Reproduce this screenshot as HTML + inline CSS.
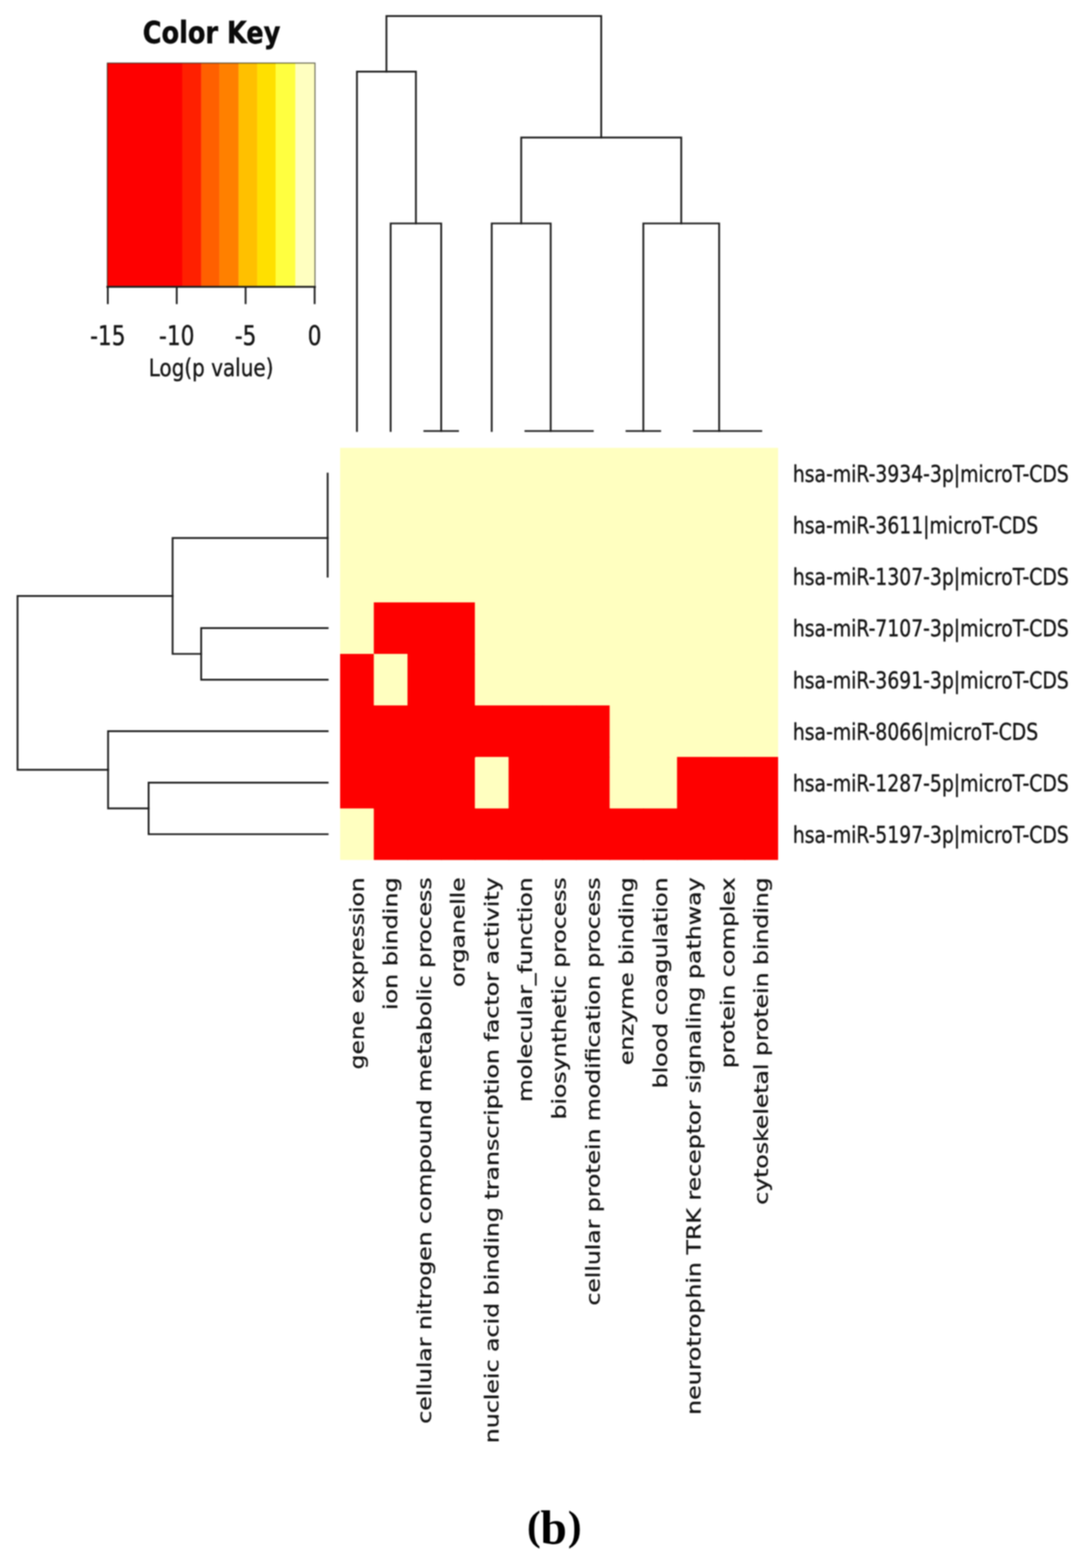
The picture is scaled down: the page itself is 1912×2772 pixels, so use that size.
<!DOCTYPE html>
<html lang="en">
<head>
<meta charset="utf-8">
<title>Heatmap (b)</title>
<style>
html,body{margin:0;padding:0;background:#fff;}
body{width:1912px;height:2772px;overflow:hidden;}
svg{display:block;font-family:"DejaVu Sans","Liberation Sans",sans-serif;filter:blur(0.8px);}
svg text{white-space:pre;}
</style>
</head>
<body>
<svg width="1912" height="2772" viewBox="0 0 1912 2772">
<rect x="0" y="0" width="1912" height="2772" fill="#ffffff"/>
<rect x="601.0" y="791.7" width="774.0" height="728.5999999999999" fill="#ffffc0"/>
<rect x="660.54" y="1064.92" width="60.54" height="91.07" fill="#fe0000"/>
<rect x="720.08" y="1064.92" width="60.54" height="92.07" fill="#fe0000"/>
<rect x="779.62" y="1064.92" width="59.54" height="92.07" fill="#fe0000"/>
<rect x="601.00" y="1156.00" width="59.54" height="92.07" fill="#fe0000"/>
<rect x="720.08" y="1156.00" width="60.54" height="92.07" fill="#fe0000"/>
<rect x="779.62" y="1156.00" width="59.54" height="92.07" fill="#fe0000"/>
<rect x="601.00" y="1247.08" width="60.54" height="92.07" fill="#fe0000"/>
<rect x="660.54" y="1247.08" width="60.54" height="92.07" fill="#fe0000"/>
<rect x="720.08" y="1247.08" width="60.54" height="92.07" fill="#fe0000"/>
<rect x="779.62" y="1247.08" width="60.54" height="92.07" fill="#fe0000"/>
<rect x="839.15" y="1247.08" width="60.54" height="91.07" fill="#fe0000"/>
<rect x="898.69" y="1247.08" width="60.54" height="92.07" fill="#fe0000"/>
<rect x="958.23" y="1247.08" width="60.54" height="92.07" fill="#fe0000"/>
<rect x="1017.77" y="1247.08" width="59.54" height="92.07" fill="#fe0000"/>
<rect x="601.00" y="1338.15" width="60.54" height="91.07" fill="#fe0000"/>
<rect x="660.54" y="1338.15" width="60.54" height="92.07" fill="#fe0000"/>
<rect x="720.08" y="1338.15" width="60.54" height="92.07" fill="#fe0000"/>
<rect x="779.62" y="1338.15" width="59.54" height="92.07" fill="#fe0000"/>
<rect x="898.69" y="1338.15" width="60.54" height="92.07" fill="#fe0000"/>
<rect x="958.23" y="1338.15" width="60.54" height="92.07" fill="#fe0000"/>
<rect x="1017.77" y="1338.15" width="59.54" height="92.07" fill="#fe0000"/>
<rect x="1196.38" y="1338.15" width="60.54" height="92.07" fill="#fe0000"/>
<rect x="1255.92" y="1338.15" width="60.54" height="92.07" fill="#fe0000"/>
<rect x="1315.46" y="1338.15" width="59.54" height="92.07" fill="#fe0000"/>
<rect x="660.54" y="1429.22" width="60.54" height="91.07" fill="#fe0000"/>
<rect x="720.08" y="1429.22" width="60.54" height="91.07" fill="#fe0000"/>
<rect x="779.62" y="1429.22" width="60.54" height="91.07" fill="#fe0000"/>
<rect x="839.15" y="1429.22" width="60.54" height="91.07" fill="#fe0000"/>
<rect x="898.69" y="1429.22" width="60.54" height="91.07" fill="#fe0000"/>
<rect x="958.23" y="1429.22" width="60.54" height="91.07" fill="#fe0000"/>
<rect x="1017.77" y="1429.22" width="60.54" height="91.07" fill="#fe0000"/>
<rect x="1077.31" y="1429.22" width="60.54" height="91.07" fill="#fe0000"/>
<rect x="1136.85" y="1429.22" width="60.54" height="91.07" fill="#fe0000"/>
<rect x="1196.38" y="1429.22" width="60.54" height="91.07" fill="#fe0000"/>
<rect x="1255.92" y="1429.22" width="60.54" height="91.07" fill="#fe0000"/>
<rect x="1315.46" y="1429.22" width="59.54" height="91.07" fill="#fe0000"/>
<line x1="749.85" y1="762.00" x2="809.38" y2="762.00" stroke="#1e1e1e" stroke-width="3.2" stroke-linecap="square"/>
<polyline points="690.31,762.00 690.31,395.00 779.62,395.00 779.62,762.00" fill="none" stroke="#1e1e1e" stroke-width="3.2" stroke-linejoin="miter" stroke-linecap="square"/>
<polyline points="630.77,762.00 630.77,126.60 734.96,126.60 734.96,395.00" fill="none" stroke="#1e1e1e" stroke-width="3.2" stroke-linejoin="miter" stroke-linecap="square"/>
<line x1="928.46" y1="762.00" x2="1047.54" y2="762.00" stroke="#1e1e1e" stroke-width="3.2" stroke-linecap="square"/>
<polyline points="868.92,762.00 868.92,395.00 973.12,395.00 973.12,762.00" fill="none" stroke="#1e1e1e" stroke-width="3.2" stroke-linejoin="miter" stroke-linecap="square"/>
<line x1="1107.08" y1="762.00" x2="1166.62" y2="762.00" stroke="#1e1e1e" stroke-width="3.2" stroke-linecap="square"/>
<line x1="1226.15" y1="762.00" x2="1345.23" y2="762.00" stroke="#1e1e1e" stroke-width="3.2" stroke-linecap="square"/>
<polyline points="1136.85,762.00 1136.85,395.00 1270.81,395.00 1270.81,762.00" fill="none" stroke="#1e1e1e" stroke-width="3.2" stroke-linejoin="miter" stroke-linecap="square"/>
<polyline points="921.02,395.00 921.02,243.10 1203.83,243.10 1203.83,395.00" fill="none" stroke="#1e1e1e" stroke-width="3.2" stroke-linejoin="miter" stroke-linecap="square"/>
<polyline points="682.87,126.60 682.87,28.30 1062.42,28.30 1062.42,243.10" fill="none" stroke="#1e1e1e" stroke-width="3.2" stroke-linejoin="miter" stroke-linecap="square"/>
<line x1="579.00" y1="837.24" x2="579.00" y2="1019.39" stroke="#1e1e1e" stroke-width="3.2" stroke-linecap="square"/>
<polyline points="579.00,1110.46 355.50,1110.46 355.50,1201.54 579.00,1201.54" fill="none" stroke="#1e1e1e" stroke-width="3.2" stroke-linejoin="miter" stroke-linecap="square"/>
<polyline points="579.00,951.08 305.00,951.08 305.00,1156.00 355.50,1156.00" fill="none" stroke="#1e1e1e" stroke-width="3.2" stroke-linejoin="miter" stroke-linecap="square"/>
<polyline points="579.00,1383.69 262.60,1383.69 262.60,1474.76 579.00,1474.76" fill="none" stroke="#1e1e1e" stroke-width="3.2" stroke-linejoin="miter" stroke-linecap="square"/>
<polyline points="579.00,1292.61 191.00,1292.61 191.00,1429.22 262.60,1429.22" fill="none" stroke="#1e1e1e" stroke-width="3.2" stroke-linejoin="miter" stroke-linecap="square"/>
<polyline points="305.00,1053.54 31.00,1053.54 31.00,1360.92 191.00,1360.92" fill="none" stroke="#1e1e1e" stroke-width="3.2" stroke-linejoin="miter" stroke-linecap="square"/>
<text transform="translate(1401.0,852.24) scale(0.8,1)" font-size="41.5" fill="#151515" stroke="#151515" stroke-width="0.7" stroke-linejoin="round">hsa-miR-3934-3p|microT-CDS</text>
<text transform="translate(1401.0,943.31) scale(0.8,1)" font-size="41.5" fill="#151515" stroke="#151515" stroke-width="0.7" stroke-linejoin="round">hsa-miR-3611|microT-CDS</text>
<text transform="translate(1401.0,1034.39) scale(0.8,1)" font-size="41.5" fill="#151515" stroke="#151515" stroke-width="0.7" stroke-linejoin="round">hsa-miR-1307-3p|microT-CDS</text>
<text transform="translate(1401.0,1125.46) scale(0.8,1)" font-size="41.5" fill="#151515" stroke="#151515" stroke-width="0.7" stroke-linejoin="round">hsa-miR-7107-3p|microT-CDS</text>
<text transform="translate(1401.0,1216.54) scale(0.8,1)" font-size="41.5" fill="#151515" stroke="#151515" stroke-width="0.7" stroke-linejoin="round">hsa-miR-3691-3p|microT-CDS</text>
<text transform="translate(1401.0,1307.61) scale(0.8,1)" font-size="41.5" fill="#151515" stroke="#151515" stroke-width="0.7" stroke-linejoin="round">hsa-miR-8066|microT-CDS</text>
<text transform="translate(1401.0,1398.69) scale(0.8,1)" font-size="41.5" fill="#151515" stroke="#151515" stroke-width="0.7" stroke-linejoin="round">hsa-miR-1287-5p|microT-CDS</text>
<text transform="translate(1401.0,1489.76) scale(0.8,1)" font-size="41.5" fill="#151515" stroke="#151515" stroke-width="0.7" stroke-linejoin="round">hsa-miR-5197-3p|microT-CDS</text>
<text transform="translate(642.77,1551.0) scale(0.795,0.9891) rotate(-90)" text-anchor="end" font-size="41.8" fill="#151515" stroke="#151515" stroke-width="0.7" stroke-linejoin="round">gene expression</text>
<text transform="translate(702.31,1551.0) scale(0.795,1.0080) rotate(-90)" text-anchor="end" font-size="41.8" fill="#151515" stroke="#151515" stroke-width="0.7" stroke-linejoin="round">ion binding</text>
<text transform="translate(761.85,1551.0) scale(0.795,0.9968) rotate(-90)" text-anchor="end" font-size="41.8" fill="#151515" stroke="#151515" stroke-width="0.7" stroke-linejoin="round">cellular nitrogen compound metabolic process</text>
<text transform="translate(821.38,1551.0) scale(0.795,0.9921) rotate(-90)" text-anchor="end" font-size="41.8" fill="#151515" stroke="#151515" stroke-width="0.7" stroke-linejoin="round">organelle</text>
<text transform="translate(880.92,1551.0) scale(0.795,1.0014) rotate(-90)" text-anchor="end" font-size="41.8" fill="#151515" stroke="#151515" stroke-width="0.7" stroke-linejoin="round">nucleic acid binding transcription factor activity</text>
<text transform="translate(940.46,1551.0) scale(0.795,0.9954) rotate(-90)" text-anchor="end" font-size="41.8" fill="#151515" stroke="#151515" stroke-width="0.7" stroke-linejoin="round">molecular_function</text>
<text transform="translate(1000.00,1551.0) scale(0.795,0.9953) rotate(-90)" text-anchor="end" font-size="41.8" fill="#151515" stroke="#151515" stroke-width="0.7" stroke-linejoin="round">biosynthetic process</text>
<text transform="translate(1059.54,1551.0) scale(0.795,0.9948) rotate(-90)" text-anchor="end" font-size="41.8" fill="#151515" stroke="#151515" stroke-width="0.7" stroke-linejoin="round">cellular protein modification process</text>
<text transform="translate(1119.08,1551.0) scale(0.795,0.9933) rotate(-90)" text-anchor="end" font-size="41.8" fill="#151515" stroke="#151515" stroke-width="0.7" stroke-linejoin="round">enzyme binding</text>
<text transform="translate(1178.62,1551.0) scale(0.795,0.9984) rotate(-90)" text-anchor="end" font-size="41.8" fill="#151515" stroke="#151515" stroke-width="0.7" stroke-linejoin="round">blood coagulation</text>
<text transform="translate(1238.15,1551.0) scale(0.795,1.0015) rotate(-90)" text-anchor="end" font-size="41.8" fill="#151515" stroke="#151515" stroke-width="0.7" stroke-linejoin="round">neurotrophin TRK receptor signaling pathway</text>
<text transform="translate(1297.69,1551.0) scale(0.795,0.9964) rotate(-90)" text-anchor="end" font-size="41.8" fill="#151515" stroke="#151515" stroke-width="0.7" stroke-linejoin="round">protein complex</text>
<text transform="translate(1357.23,1551.0) scale(0.795,0.9951) rotate(-90)" text-anchor="end" font-size="41.8" fill="#151515" stroke="#151515" stroke-width="0.7" stroke-linejoin="round">cytoskeletal protein binding</text>
<rect x="189.60" y="111.5" width="132.80" height="395.1" fill="#fe0000"/>
<rect x="322.00" y="111.5" width="33.90" height="395.1" fill="#ff2000"/>
<rect x="355.50" y="111.5" width="32.40" height="395.1" fill="#ff6000"/>
<rect x="387.50" y="111.5" width="34.40" height="395.1" fill="#ff8000"/>
<rect x="421.50" y="111.5" width="33.40" height="395.1" fill="#ffc000"/>
<rect x="454.50" y="111.5" width="32.90" height="395.1" fill="#ffe000"/>
<rect x="487.00" y="111.5" width="35.20" height="395.1" fill="#ffff40"/>
<rect x="521.80" y="111.5" width="34.80" height="395.1" fill="#ffffc0"/>
<rect x="189.6" y="111.5" width="367.0" height="395.1" fill="none" stroke="#2a2a1a" stroke-width="1.8" opacity="0.75"/>
<line x1="189.6" y1="507.1" x2="556.6" y2="507.1" stroke="#1e1e1e" stroke-width="3.2" stroke-linecap="square"/>
<line x1="190.5" y1="507.1" x2="190.5" y2="537.6" stroke="#1e1e1e" stroke-width="3.2"/>
<text transform="translate(190.5,609.6) scale(0.81,1)" text-anchor="middle" font-size="47.2" fill="#151515" stroke="#151515" stroke-width="0.7" stroke-linejoin="round">-15</text>
<line x1="312.3" y1="507.1" x2="312.3" y2="537.6" stroke="#1e1e1e" stroke-width="3.2"/>
<text transform="translate(312.3,609.6) scale(0.81,1)" text-anchor="middle" font-size="47.2" fill="#151515" stroke="#151515" stroke-width="0.7" stroke-linejoin="round">-10</text>
<line x1="434.0" y1="507.1" x2="434.0" y2="537.6" stroke="#1e1e1e" stroke-width="3.2"/>
<text transform="translate(434.0,609.6) scale(0.81,1)" text-anchor="middle" font-size="47.2" fill="#151515" stroke="#151515" stroke-width="0.7" stroke-linejoin="round">-5</text>
<line x1="556.0" y1="507.1" x2="556.0" y2="537.6" stroke="#1e1e1e" stroke-width="3.2"/>
<text transform="translate(556.0,609.6) scale(0.81,1)" text-anchor="middle" font-size="47.2" fill="#151515" stroke="#151515" stroke-width="0.7" stroke-linejoin="round">0</text>
<text transform="translate(373,665.3) scale(0.82,1)" text-anchor="middle" font-size="43" fill="#151515" stroke="#151515" stroke-width="0.7" stroke-linejoin="round">Log(p value)</text>
<text transform="translate(373.8,76.3) scale(0.845,1)" text-anchor="middle" font-size="53.5" font-weight="bold" fill="#0a0a0a" stroke="#0a0a0a" stroke-width="0.8">Color Key</text>
<text font-family="'Liberation Serif', 'DejaVu Serif', serif" font-weight="bold" fill="#000"><tspan x="931.2" y="2722" font-size="73">(</tspan><tspan x="955" y="2729.2" font-size="84">b</tspan><tspan x="1003.6" y="2722" font-size="73">)</tspan></text>
</svg>
</body>
</html>
